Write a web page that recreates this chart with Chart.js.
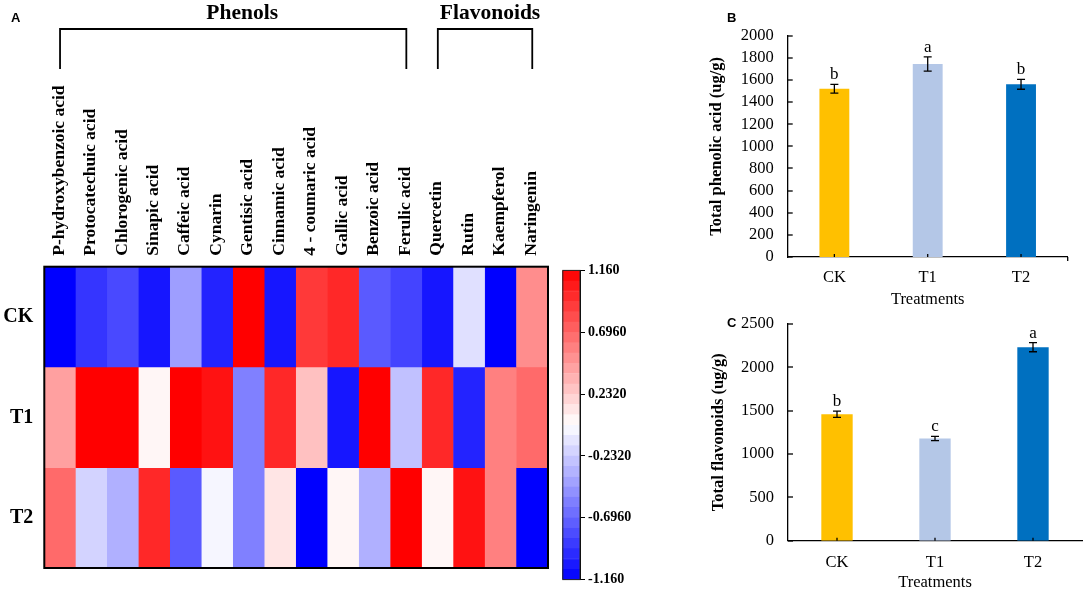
<!DOCTYPE html>
<html>
<head>
<meta charset="utf-8">
<script src="https://cdn.jsdelivr.net/npm/chart.js@4.4.0/dist/chart.umd.min.js"></script>
<style>
body{margin:0;background:#fff;}
#wrap{position:relative;width:1084px;height:591px;overflow:hidden;}
canvas{position:absolute;}
.tag{position:absolute;font:bold 13px "Liberation Sans",Arial,sans-serif;line-height:13px;color:#000;}
</style>
</head>
<body>
<div id="wrap">
  <canvas id="heat" width="560" height="591" style="left:0px;top:0px"></canvas>
  <canvas id="cbar" width="110" height="332" style="left:550px;top:259px"></canvas>
  <canvas id="barB" width="384" height="312" style="left:700px;top:0px"></canvas>
  <canvas id="barC" width="384" height="291" style="left:700px;top:300px"></canvas>
  <div class="tag" style="left:11px;top:11px">A</div>
  <div class="tag" style="left:727px;top:11px">B</div>
  <div class="tag" style="left:727px;top:316px">C</div>
</div>
<script>
const compounds = ['P-hydroxybenzoic acid','Protocatechuic acid','Chlorogenic acid','Sinapic acid','Caffeic acid','Cynarin','Gentisic acid','Cinnamic acid','4 - coumaric acid','Gallic acid','Benzoic acid','Ferulic acid','Quercetin','Rutin','Kaempferol','Naringenin'];
const treatments = ['CK','T1','T2'];
const ckZ = [-1.16,-0.92,-0.83,-1.06,-0.44,-1.00, 1.16,-1.06, 0.90, 0.98,-0.75,-0.85,-1.06,-0.14,-1.16, 0.52];
const t1Z = [ 0.43, 1.16, 1.16, 0.04, 1.16, 1.08,-0.58, 0.98, 0.28,-1.06, 1.16,-0.28, 0.98,-1.00, 0.58, 0.68];
const t2Z = [ 0.68,-0.20,-0.36, 0.98,-0.75,-0.04,-0.58, 0.12,-1.16, 0.04,-0.36, 1.16, 0.04, 1.08, 0.58,-1.16];
const groupNames = ['Phenols','Flavonoids'];
const groupFirst = [0, 12];
const groupLast = [11, 15];

// colour bar
const zMin = -1.16, zMax = 1.16;
const colorSteps = 30;
const cbarTicks = [1.16, 0.696, 0.232, -0.232, -0.696, -1.16];
const cbarLabels = ['1.160','0.6960','0.2320','-0.2320','-0.6960','-1.160'];

// bar panels
const barLabels = ['CK','T1','T2'];
const barColors = ['#FFC000','#B4C7E7','#0070C0'];
const phenolMean = [1521, 1744, 1561];
const phenolErr = [40, 65, 45];
const phenolLetters = ['b','a','b'];
const flavMean = [1459, 1178, 2232];
const flavErr = [36, 25, 53];
const flavLetters = ['b','c','a'];

Chart.defaults.font.family = '"Liberation Serif","Times New Roman",serif';
Chart.defaults.color = '#000';

function zColor(v){
  const t = Math.max(-1, Math.min(1, v / zMax));
  if (t < 0) { const c = Math.round(255*(1+t)); return `rgb(${c},${c},255)`; }
  const c = Math.round(255*(1-t)); return `rgb(255,${c},${c})`;
}

// frame, brackets and group names of the heatmap
const heatDecor = {
  id:'heatDecor',
  afterDraw(chart){
    const {ctx, chartArea:a, scales:{x}} = chart;
    ctx.save();
    ctx.strokeStyle = '#000';
    ctx.lineWidth = 2;
    ctx.strokeRect(a.left, a.top, a.right-a.left, a.bottom-a.top);
    ctx.lineWidth = 1.8;
    ctx.font = 'bold 21.5px "Liberation Serif"';
    ctx.textAlign = 'center';
    ctx.textBaseline = 'middle';
    ctx.fillStyle = '#000';
    const shift = [9, 5];
    groupNames.forEach((g,i)=>{
      const x0 = x.getPixelForValue(groupFirst[i]), x1 = x.getPixelForValue(groupLast[i]);
      ctx.beginPath();
      ctx.moveTo(x0, 69); ctx.lineTo(x0, 29); ctx.lineTo(x1, 29); ctx.lineTo(x1, 69);
      ctx.stroke();
      ctx.fillText(g, (x0+x1)/2 + shift[i], 13);
    });
    ctx.restore();
  }
};

const heatRows = [ckZ, t1Z, t2Z];
new Chart(document.getElementById('heat'), {
  type:'bar',
  data:{
    labels:compounds,
    datasets:heatRows.map((row,r)=>({
      label:treatments[r],
      data:row.map(()=>1),
      backgroundColor:row.map(zColor),
      borderColor:row.map(zColor),
      borderWidth:0.5,
      borderSkipped:false,
      barPercentage:1,
      categoryPercentage:1
    }))
  },
  options:{
    responsive:false, animation:false,
    layout:{padding:{left:0,right:12,top:0,bottom:10}},
    plugins:{legend:{display:false}, tooltip:{enabled:false}},
    scales:{
      x:{position:'top', stacked:true,
        grid:{display:false, drawTicks:false}, border:{display:false},
        ticks:{minRotation:90, maxRotation:90, autoSkip:false, padding:11, labelOffset:20, font:{size:17.5, weight:'bold'}},
        afterFit(s){ s.height = 266.7; }},
      y:{stacked:true, min:0, max:3, reverse:true,
        grid:{display:false, drawTicks:false}, border:{display:false},
        afterBuildTicks(s){ s.ticks = [0.5,1.5,2.5].map(v=>({value:v})); },
        ticks:{padding:11, font:{size:20, weight:'bold'}, callback:(v,i)=>treatments[i]},
        afterFit(s){ s.width = 44.3; }}
    }
  },
  plugins:[heatDecor]
});

// colour bar
const stepSize = (zMax - zMin) / colorSteps;
const cbarFrame = {
  id:'cbarFrame',
  afterDraw(chart){
    const {ctx, chartArea:a} = chart;
    ctx.save();
    ctx.strokeStyle = '#222';
    ctx.lineWidth = 1;
    ctx.strokeRect(a.left+0.5, a.top, a.right-a.left-0.5, a.bottom-a.top);
    ctx.restore();
  }
};
new Chart(document.getElementById('cbar'), {
  type:'bar',
  data:{
    labels:[''],
    datasets:Array.from({length:colorSteps}, (_, i)=>{
      const lo = zMin + i*stepSize, hi = lo + stepSize;
      const col = zColor((lo+hi)/2);
      return {data:[[lo,hi]], backgroundColor:col, borderColor:col, borderWidth:0.5, borderSkipped:false,
        grouped:false, barPercentage:1, categoryPercentage:1};
    })
  },
  options:{
    responsive:false, animation:false,
    layout:{padding:{left:12.3,right:0,top:10,bottom:6}},
    plugins:{legend:{display:false}, tooltip:{enabled:false}},
    scales:{
      x:{display:false},
      y:{position:'right', min:zMin, max:zMax,
        afterBuildTicks(s){ s.ticks = cbarTicks.map(v=>({value:v})); },
        grid:{display:true, drawOnChartArea:false, drawTicks:true, tickLength:5, color:'#000'},
        border:{display:true, color:'#000'},
        ticks:{padding:3, font:{size:14, weight:'bold'}, callback:(v,i)=>cbarLabels[cbarTicks.indexOf(v)]},
        afterFit(s){ s.width = 80; }}
    }
  },
  plugins:[cbarFrame]
});

// bar panels B and C
function barDecor(mean, err, letters, endTick){
  return {
    id:'barDecor',
    afterDraw(chart){
      const {ctx, chartArea:a, scales:{y}} = chart;
      const bars = chart.getDatasetMeta(0).data;
      ctx.save();
      ctx.strokeStyle = '#000';
      ctx.fillStyle = '#000';
      ctx.lineWidth = 1.3;
      // inward ticks
      y.ticks.forEach(t=>{
        const py = Math.round(y.getPixelForValue(t.value));
        ctx.beginPath(); ctx.moveTo(a.left, py); ctx.lineTo(a.left+5, py); ctx.stroke();
      });
      bars.forEach(b=>{
        ctx.beginPath(); ctx.moveTo(b.x, a.bottom); ctx.lineTo(b.x, a.bottom-3); ctx.stroke();
      });
      if (endTick) { ctx.beginPath(); ctx.moveTo(a.right, a.bottom); ctx.lineTo(a.right, a.bottom+4); ctx.stroke(); }
      // error bars and letters
      ctx.font = '17px "Liberation Serif"';
      ctx.textAlign = 'center';
      ctx.textBaseline = 'alphabetic';
      bars.forEach((b,i)=>{
        const hi = y.getPixelForValue(mean[i]+err[i]), lo = y.getPixelForValue(mean[i]-err[i]);
        ctx.beginPath();
        ctx.moveTo(b.x, hi); ctx.lineTo(b.x, lo);
        ctx.moveTo(b.x-4, hi); ctx.lineTo(b.x+4, hi);
        ctx.moveTo(b.x-4, lo); ctx.lineTo(b.x+4, lo);
        ctx.stroke();
        ctx.fillText(letters[i], b.x, hi-5);
      });
      ctx.restore();
    }
  };
}

function makeBar(id, mean, err, letters, yMax, yStep, yTitle, pad, axisH, yW, titlePad, tickPadX, xTitlePad, endTick){
  new Chart(document.getElementById(id), {
    type:'bar',
    data:{labels:barLabels, datasets:[{data:mean, backgroundColor:barColors, borderWidth:0, barPercentage:0.32, categoryPercentage:1}]},
    options:{
      responsive:false, animation:false,
      layout:{padding:pad},
      plugins:{legend:{display:false}, tooltip:{enabled:false}},
      scales:{
        x:{grid:{display:false, drawTicks:false}, border:{display:true, color:'#000', width:1.3},
          ticks:{padding:tickPadX, font:{size:16.5}},
          title:{display:true, text:'Treatments', font:{size:16.5, lineHeight:1}, padding:{top:0,bottom:xTitlePad}},
          afterFit(s){ s.height = axisH; }},
        y:{min:0, max:yMax,
          ticks:{stepSize:yStep, autoSkip:false, padding:14, font:{size:16.5}, callback:v=>String(v)},
          grid:{display:false, drawTicks:false}, border:{display:true, color:'#000', width:1.3},
          title:{display:true, text:yTitle, font:{size:16.5, weight:'bold'}, padding:{top:titlePad, bottom:0}},
          afterFit(s){ s.width = yW; }}
      }
    },
    plugins:[barDecor(mean, err, letters, endTick)]
  });
}

makeBar('barB', phenolMean, phenolErr, phenolLetters, 2000, 200, 'Total phenolic acid (ug/g)',
  {left:0, right:16.3, top:35.7, bottom:0}, 55, 87.7, 7, 10.5, 4, true);
makeBar('barC', flavMean, flavErr, flavLetters, 2500, 500, 'Total flavonoids (ug/g)',
  {left:0, right:2, top:20.7, bottom:0}, 50.3, 88, 8.5, 12, 0, false);
</script>
</body>
</html>
